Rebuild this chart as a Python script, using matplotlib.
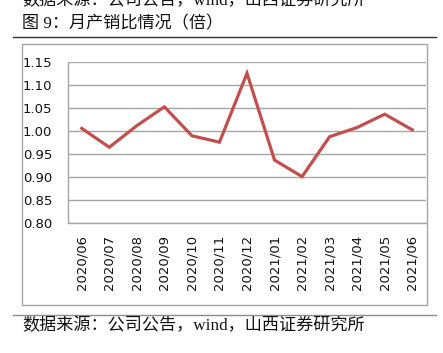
import matplotlib
matplotlib.use('Agg')
import matplotlib.pyplot as plt
from matplotlib.patches import Rectangle
from matplotlib.lines import Line2D

months = ['2020/06', '2020/07', '2020/08', '2020/09', '2020/10', '2020/11', '2020/12',
          '2021/01', '2021/02', '2021/03', '2021/04', '2021/05', '2021/06']
ratio = [1.006, 0.965, 1.012, 1.053, 0.990, 0.976, 1.126,
         0.937, 0.901, 0.988, 1.008, 1.037, 1.003]
yticks = [0.80, 0.85, 0.90, 0.95, 1.00, 1.05, 1.10, 1.15]

title = '图 9：月产销比情况（倍）'
source = '数据来源：公司公告，wind，山西证券研究所'
cjk = ['Liberation Serif', 'Noto Sans CJK SC', 'DejaVu Sans']

W, H = 443, 353
fig = plt.figure(figsize=(W / 100, H / 100), dpi=100)

# outer chart frame
fig.patches.append(Rectangle((22 / W, 1 - 305 / H), (427 - 22) / W, (305 - 44) / H,
                             transform=fig.transFigure, fill=False, edgecolor='#A6A6A6', lw=1.0))
# rules under title and above footer
fig.lines.append(Line2D([13 / W, 436 / W], [1 - 37 / H, 1 - 37 / H], transform=fig.transFigure,
                        color='#333333', lw=1.0))
fig.lines.append(Line2D([13 / W, 436 / W], [1 - 315 / H, 1 - 315 / H], transform=fig.transFigure,
                        color='#8C8C8C', lw=1.0))

fig.text(22 / W, 1 - 1 / H, source, family=cjk, fontsize=12.3, va='center', ha='left', color='#111111')
fig.text(22 / W, 1 - 24 / H, title, family=cjk, fontsize=12.3, va='center', ha='left', color='#111111')
fig.text(22 / W, 1 - 326 / H, source, family=cjk, fontsize=12.3, va='center', ha='left', color='#111111')

ax = fig.add_axes([68 / W, 1 - 223 / H, (426 - 68) / W, (223 - 62.3) / H])
x = list(range(len(months)))
ax.plot(x, ratio, color='#C0504D', lw=2.3, solid_joinstyle='miter')

ax.set_xlim(-0.5, len(months) - 0.5)
ax.set_ylim(0.80, 1.15)
ax.set_yticks(yticks)
ax.set_yticklabels(['%.2f' % v for v in yticks])
ax.set_xticks(x)
ax.set_xticklabels(months, rotation=90)
ax.yaxis.grid(True, color='#A6A6A6', lw=1.0)
ax.set_axisbelow(True)
ax.tick_params(axis='both', length=0, labelsize=9.5, colors='#111111')
ax.tick_params(axis='y', pad=11.5)
ax.tick_params(axis='x', pad=8.5)
for s in ['top', 'right']:
    ax.spines[s].set_visible(False)
for s in ['left', 'bottom']:
    ax.spines[s].set_color('#A6A6A6')
    ax.spines[s].set_linewidth(1.0)

fig.savefig('out.png', dpi=100)
